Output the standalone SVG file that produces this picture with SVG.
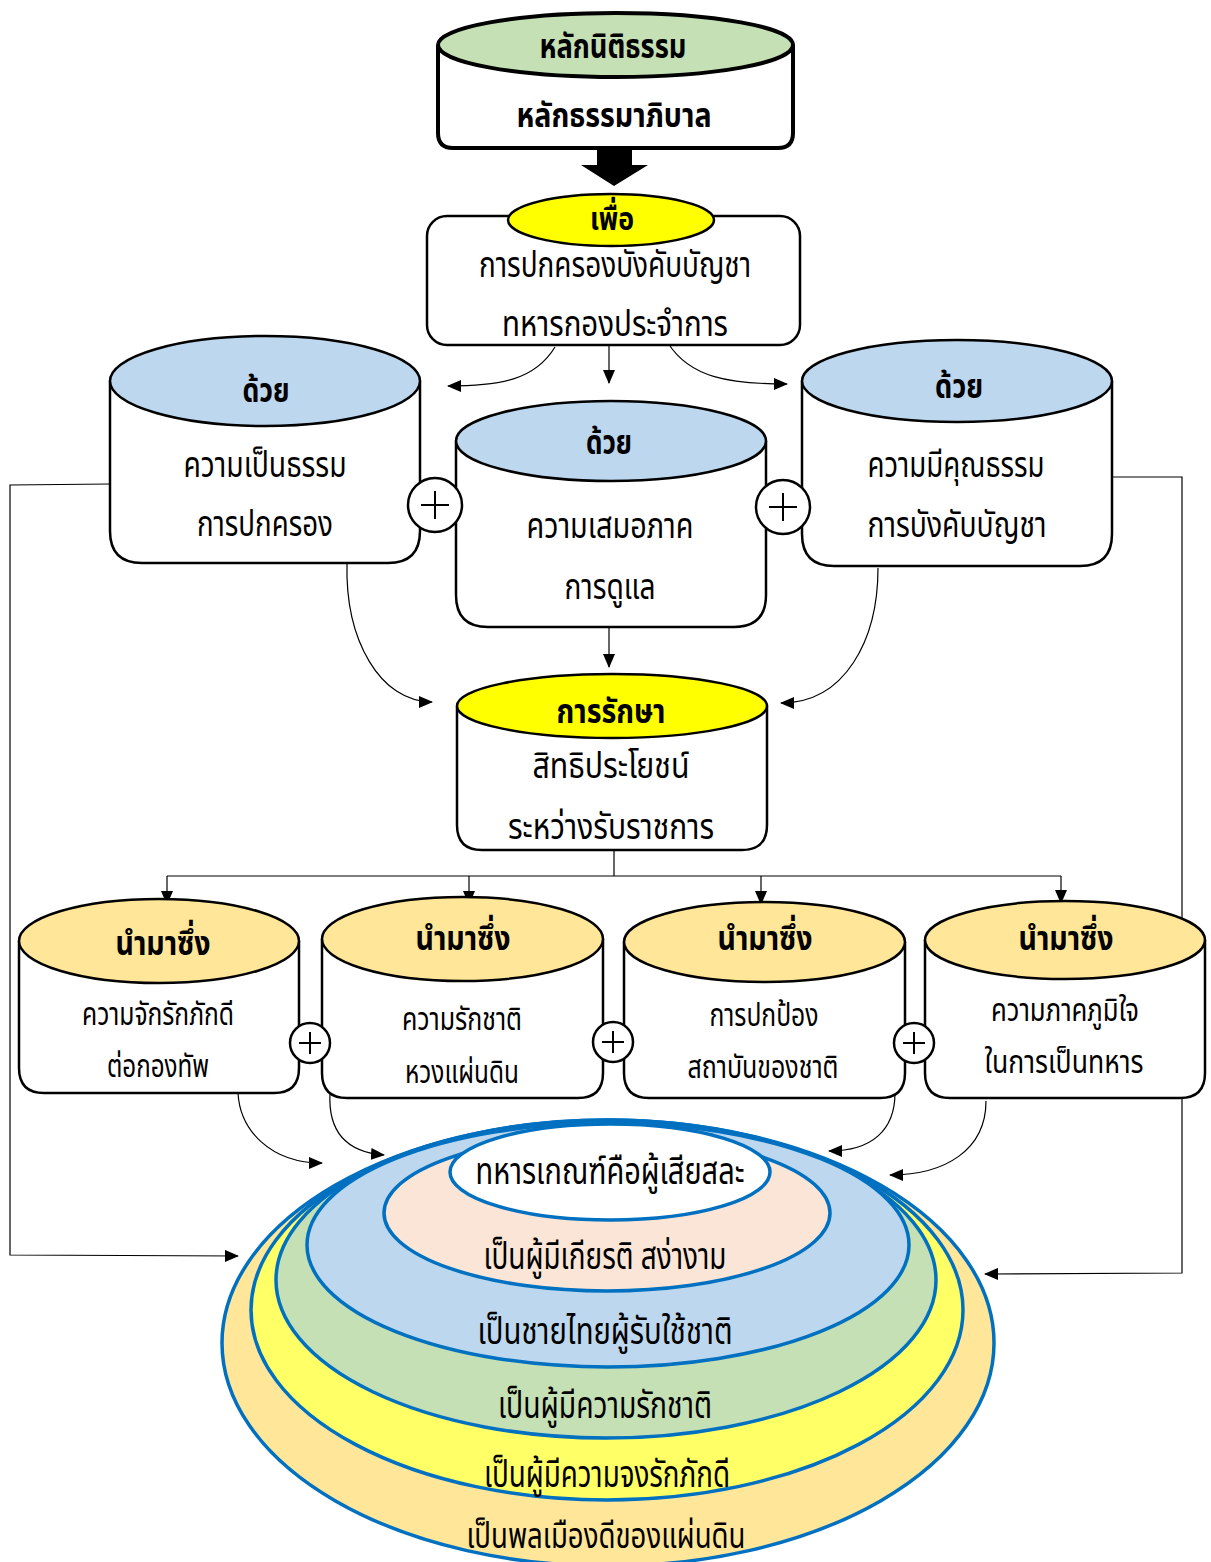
<svg xmlns="http://www.w3.org/2000/svg" width="1211" height="1562" viewBox="0 0 1211 1562">
<defs>
<marker id="ah" viewBox="0 0 14 12" refX="13" refY="6" markerWidth="14" markerHeight="12" markerUnits="userSpaceOnUse" orient="auto"><path d="M0,0 L14,6 L0,12 Z" fill="#000"/></marker>
<style>
.t{font-family:"Noto Sans Thai","Noto Sans Thai UI","Loma","Garuda","Noto Sans","DejaVu Sans",sans-serif;fill:#000;text-anchor:middle;}
.b{font-weight:bold;}
.cyl{fill:#fff;stroke:#000;stroke-width:2.5;}
.c{fill:none;stroke:#000;stroke-width:1.2;}
.ring{stroke:#0070C0;stroke-width:3.5;}
.plus{fill:#fff;stroke:#000;stroke-width:2.5;}
.pl{stroke:#000;stroke-width:2;}
</style>
</defs>

<g id="connectors">
<polygon points="597,148 632,148 632,165 648,165 614,186 581,165 597,165" fill="#000"/>
<path class="c" d="M555,347 C535,380 500,386 448,386" marker-end="url(#ah)"/>
<path class="c" d="M609,345 L609,383" marker-end="url(#ah)"/>
<path class="c" d="M668,343 C690,378 730,384 787,384" marker-end="url(#ah)"/>
<path class="c" d="M347,563 C345,640 380,702 432,702" marker-end="url(#ah)"/>
<path class="c" d="M609,627 L609,667" marker-end="url(#ah)"/>
<path class="c" d="M878,568 C878,640 845,703 781,703" marker-end="url(#ah)"/>
<path class="c" d="M614,850 L614,876 M167,876 L1061,876"/>
<path class="c" d="M167,876 L167,904" marker-end="url(#ah)"/>
<path class="c" d="M469,876 L469,904" marker-end="url(#ah)"/>
<path class="c" d="M761,876 L761,904" marker-end="url(#ah)"/>
<path class="c" d="M1061,876 L1061,903" marker-end="url(#ah)"/>
<path class="c" d="M238,1093 C240,1130 270,1163 322,1163" marker-end="url(#ah)"/>
<path class="c" d="M330,1093 C328,1130 345,1152 384,1155" marker-end="url(#ah)"/>
<path class="c" d="M895,1093 C895,1130 872,1151 829,1151" marker-end="url(#ah)"/>
<path class="c" d="M986,1101 C986,1150 945,1175 890,1175" marker-end="url(#ah)"/>
<path class="c" d="M110,484 L10,485 L10,1255 L238,1256" marker-end="url(#ah)"/>
<path class="c" d="M1112,477 L1182,477 L1182,1273 L985,1274" marker-end="url(#ah)"/>
</g>

<g id="node-top">
<path d="M438,45 L438,133 Q438,148 453,148 L778,148 Q793,148 793,133 L793,45" fill="#fff" stroke="#000" stroke-width="4"/>
<ellipse cx="615.5" cy="45" rx="177.5" ry="32" fill="#C5E0B4" stroke="#000" stroke-width="4"/>
<text class="t b" x="613" y="58" font-size="34" textLength="147" lengthAdjust="spacingAndGlyphs">หลักนิติธรรม</text>
<text class="t b" x="614" y="127" font-size="34" textLength="195" lengthAdjust="spacingAndGlyphs">หลักธรรมาภิบาล</text>
</g>

<g id="node-purpose">
<rect x="427" y="216" width="373" height="129" rx="20" fill="#fff" stroke="#000" stroke-width="2.5"/>
<ellipse cx="611" cy="220" rx="103" ry="26" fill="#FFFF00" stroke="#000" stroke-width="2.5"/>
<text class="t b" x="612" y="230" font-size="32" textLength="44" lengthAdjust="spacingAndGlyphs">เพื่อ</text>
<text class="t" x="615" y="277" font-size="35" textLength="272" lengthAdjust="spacingAndGlyphs">การปกครองบังคับบัญชา</text>
<text class="t" x="615" y="336" font-size="36" textLength="226" lengthAdjust="spacingAndGlyphs">ทหารกองประจำการ</text>
</g>

<g id="node-fair">
<path class="cyl" d="M110,381 L110,531 Q110,563 142,563 L388,563 Q420,563 420,531 L420,381"/>
<ellipse cx="265" cy="381" rx="155" ry="45" fill="#BDD7EE" stroke="#000" stroke-width="2.5"/>
<text class="t b" x="266" y="402" font-size="34" textLength="47" lengthAdjust="spacingAndGlyphs">ด้วย</text>
<text class="t" x="265" y="477" font-size="36" textLength="163" lengthAdjust="spacingAndGlyphs">ความเป็นธรรม</text>
<text class="t" x="265" y="536" font-size="36" textLength="136" lengthAdjust="spacingAndGlyphs">การปกครอง</text>
</g>

<g id="node-equal">
<path class="cyl" d="M456,441 L456,595 Q456,627 488,627 L734,627 Q766,627 766,595 L766,441"/>
<ellipse cx="611" cy="441" rx="155" ry="40" fill="#BDD7EE" stroke="#000" stroke-width="2.5"/>
<text class="t b" x="609" y="454" font-size="34" textLength="46" lengthAdjust="spacingAndGlyphs">ด้วย</text>
<text class="t" x="610" y="538" font-size="36" textLength="167" lengthAdjust="spacingAndGlyphs">ความเสมอภาค</text>
<text class="t" x="610" y="599" font-size="36" textLength="91" lengthAdjust="spacingAndGlyphs">การดูแล</text>
</g>

<g id="node-virtue">
<path class="cyl" d="M802,381 L802,534 Q802,566 834,566 L1080,566 Q1112,566 1112,534 L1112,381"/>
<ellipse cx="957" cy="381" rx="155" ry="41" fill="#BDD7EE" stroke="#000" stroke-width="2.5"/>
<text class="t b" x="959" y="398" font-size="34" textLength="48" lengthAdjust="spacingAndGlyphs">ด้วย</text>
<text class="t" x="956" y="477" font-size="36" textLength="177" lengthAdjust="spacingAndGlyphs">ความมีคุณธรรม</text>
<text class="t" x="957" y="537" font-size="36" textLength="179" lengthAdjust="spacingAndGlyphs">การบังคับบัญชา</text>
</g>

<g id="plus-1"><circle class="plus" cx="435" cy="505" r="27"/><path class="pl" d="M421,505 H449 M435,491 V519"/></g>
<g id="plus-2"><circle class="plus" cx="783" cy="507" r="27"/><path class="pl" d="M769,507 H797 M783,493 V521"/></g>

<g id="node-preserve">
<path class="cyl" d="M457,706 L457,825 Q457,850 482,850 L742,850 Q767,850 767,825 L767,706"/>
<ellipse cx="612" cy="706" rx="155" ry="32" fill="#FFFF00" stroke="#000" stroke-width="2.5"/>
<text class="t b" x="611" y="723" font-size="34" textLength="109" lengthAdjust="spacingAndGlyphs">การรักษา</text>
<text class="t" x="611" y="778" font-size="36" textLength="157" lengthAdjust="spacingAndGlyphs">สิทธิประโยชน์</text>
<text class="t" x="611" y="839" font-size="36" textLength="206" lengthAdjust="spacingAndGlyphs">ระหว่างรับราชการ</text>
</g>

<g id="node-loyalty">
<path class="cyl" d="M19,941 L19,1068 Q19,1093 44,1093 L274,1093 Q299,1093 299,1068 L299,941"/>
<ellipse cx="159" cy="941" rx="140" ry="42" fill="#FFE699" stroke="#000" stroke-width="2.5"/>
<text class="t b" x="163" y="955" font-size="34" textLength="95" lengthAdjust="spacingAndGlyphs">นำมาซึ่ง</text>
<text class="t" x="158" y="1025" font-size="32" textLength="152" lengthAdjust="spacingAndGlyphs">ความจักรักภักดี</text>
<text class="t" x="158" y="1077" font-size="32" textLength="102" lengthAdjust="spacingAndGlyphs">ต่อกองทัพ</text>
</g>

<g id="node-patriot">
<path class="cyl" d="M322,939 L322,1073 Q322,1098 347,1098 L578,1098 Q603,1098 603,1073 L603,939"/>
<ellipse cx="462.5" cy="939" rx="140.5" ry="42" fill="#FFE699" stroke="#000" stroke-width="2.5"/>
<text class="t b" x="463" y="950" font-size="34" textLength="95" lengthAdjust="spacingAndGlyphs">นำมาซึ่ง</text>
<text class="t" x="462" y="1030" font-size="32" textLength="120" lengthAdjust="spacingAndGlyphs">ความรักชาติ</text>
<text class="t" x="462" y="1083" font-size="32" textLength="114" lengthAdjust="spacingAndGlyphs">หวงแผ่นดิน</text>
</g>

<g id="node-protect">
<path class="cyl" d="M624,942 L624,1073 Q624,1098 649,1098 L880,1098 Q905,1098 905,1073 L905,942"/>
<ellipse cx="764.5" cy="942" rx="140.5" ry="40" fill="#FFE699" stroke="#000" stroke-width="2.5"/>
<text class="t b" x="765" y="950" font-size="34" textLength="95" lengthAdjust="spacingAndGlyphs">นำมาซึ่ง</text>
<text class="t" x="764" y="1026" font-size="32" textLength="109" lengthAdjust="spacingAndGlyphs">การปกป้อง</text>
<text class="t" x="763" y="1078" font-size="32" textLength="151" lengthAdjust="spacingAndGlyphs">สถาบันของชาติ</text>
</g>

<g id="node-pride">
<path class="cyl" d="M925,940 L925,1073 Q925,1098 950,1098 L1180,1098 Q1205,1098 1205,1073 L1205,940"/>
<ellipse cx="1065" cy="940" rx="140" ry="39" fill="#FFE699" stroke="#000" stroke-width="2.5"/>
<text class="t b" x="1066" y="950" font-size="34" textLength="95" lengthAdjust="spacingAndGlyphs">นำมาซึ่ง</text>
<text class="t" x="1065" y="1021" font-size="32" textLength="148" lengthAdjust="spacingAndGlyphs">ความภาคภูมิใจ</text>
<text class="t" x="1064" y="1073" font-size="32" textLength="159" lengthAdjust="spacingAndGlyphs">ในการเป็นทหาร</text>
</g>

<g id="plus-3"><circle class="plus" cx="310" cy="1043" r="20"/><path class="pl" d="M299,1043 H321 M310,1032 V1054"/></g>
<g id="plus-4"><circle class="plus" cx="613" cy="1042" r="20"/><path class="pl" d="M602,1042 H624 M613,1031 V1053"/></g>
<g id="plus-5"><circle class="plus" cx="914" cy="1043" r="20"/><path class="pl" d="M903,1043 H925 M914,1032 V1054"/></g>

<g id="node-outcome">
<ellipse class="ring" cx="608" cy="1343" rx="386" ry="223" fill="#FFE699"/>
<ellipse class="ring" cx="607" cy="1310" rx="356" ry="190" fill="#FFFF66"/>
<ellipse class="ring" cx="606" cy="1280" rx="330" ry="158" fill="#C5E0B4"/>
<ellipse class="ring" cx="608" cy="1245" rx="301" ry="122" fill="#BDD7EE"/>
<ellipse class="ring" cx="607" cy="1213" rx="223" ry="78" fill="#FBE5D6"/>
<ellipse class="ring" cx="610" cy="1172" rx="160" ry="48" fill="#fff"/>
<text class="t" x="610" y="1184" font-size="38" textLength="269" lengthAdjust="spacingAndGlyphs">ทหารเกณฑ์คือผู้เสียสละ</text>
<text class="t" x="605" y="1269" font-size="38" textLength="243" lengthAdjust="spacingAndGlyphs">เป็นผู้มีเกียรติ สง่างาม</text>
<text class="t" x="605" y="1344" font-size="38" textLength="255" lengthAdjust="spacingAndGlyphs">เป็นชายไทยผู้รับใช้ชาติ</text>
<text class="t" x="605" y="1418" font-size="38" textLength="214" lengthAdjust="spacingAndGlyphs">เป็นผู้มีความรักชาติ</text>
<text class="t" x="607" y="1487" font-size="38" textLength="246" lengthAdjust="spacingAndGlyphs">เป็นผู้มีความจงรักภักดี</text>
<text class="t" x="606" y="1548" font-size="36" textLength="279" lengthAdjust="spacingAndGlyphs">เป็นพลเมืองดีของแผ่นดิน</text>
</g>
</svg>
